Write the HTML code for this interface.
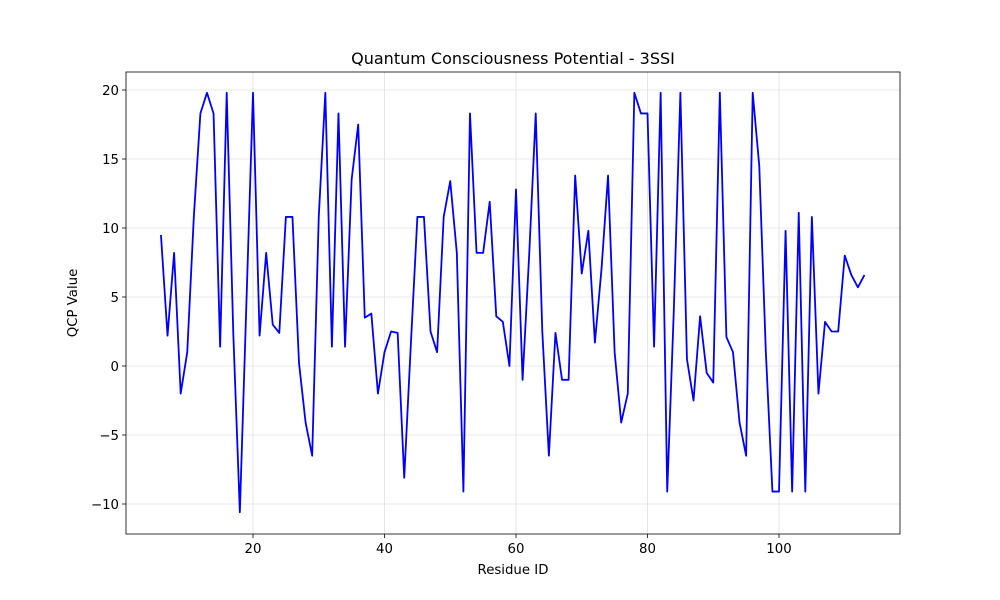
<!DOCTYPE html>
<html><head><meta charset="utf-8"><style>
body{margin:0;background:#fff;}
svg{display:block;font-family:"DejaVu Sans","Liberation Sans",sans-serif;}
</style></head><body>
<svg id="chart" width="1000" height="600"></svg>
<script>
const startResidue = 6;
const qcpValues = [9.5,2.2,8.2,-2.0,1.0,10.8,18.3,19.8,18.3,1.4,
19.8,2.4,-10.6,4.6,19.8,2.2,8.2,3.0,2.4,10.8,
10.8,0.2,-4.1,-6.5,10.8,19.8,1.4,18.3,1.4,13.5,
17.5,3.5,3.8,-2.0,1.0,2.5,2.4,-8.1,1.5,10.8,
10.8,2.5,1.0,10.8,13.4,8.2,-9.1,18.3,8.2,8.2,
11.9,3.6,3.2,0.0,12.8,-1.0,8.0,18.3,2.5,-6.5,
2.4,-1.0,-1.0,13.8,6.7,9.8,1.7,7.0,13.8,1.0,
-4.1,-2.0,19.8,18.3,18.3,1.4,19.8,-9.1,4.0,19.8,
0.5,-2.5,3.6,-0.5,-1.2,19.8,2.1,1.0,-4.1,-6.5,
19.8,14.5,1.0,-9.1,-9.1,9.8,-9.1,11.1,-9.1,10.8,
-2.0,3.2,2.5,2.5,8.0,6.6,5.7,6.6];
const xTicks = [20,40,60,80,100];
const yTicks = [-10,-5,0,5,10,15,20];

const L=126,R=900,T=72,B=534;
const xs=v=>121.5+v*6.575;
const ys=v=>366-v*13.8;
const NS="http://www.w3.org/2000/svg";
const svg=document.getElementById('chart');
function mk(t,a,p){const e=document.createElementNS(NS,t);for(const k in a)e.setAttribute(k,a[k]);(p||svg).appendChild(e);return e;}

const grid=mk('g',{});


const xt=mk('g',{});


xTicks.forEach(t=>{const x=xs(t);
 mk('line',{x1:x,x2:x,y1:T,y2:B,stroke:'#e0e0e0','stroke-width':0.8},grid);
 mk('line',{x1:x,x2:x,y1:B,y2:B+4,stroke:'#000','stroke-width':0.8},xt);
 const tx=mk('text',{x:x,y:B+19,'text-anchor':'middle','font-size':13.3},xt);tx.textContent=t;});
const yt=mk('g',{});


yTicks.forEach(t=>{const y=ys(t);
 mk('line',{x1:L,x2:R,y1:y,y2:y,stroke:'#e0e0e0','stroke-width':0.8},grid);
 mk('line',{x1:L-4,x2:L,y1:y,y2:y,stroke:'#000','stroke-width':0.8},yt);
 const tx=mk('text',{x:L-7,y:y+5,'text-anchor':'end','font-size':13.3},yt);tx.textContent=t<0?'\u2212'+(-t):t;});

const pts=qcpValues.map((v,i)=>xs(startResidue+i).toFixed(2)+','+ys(v).toFixed(2)).join(' ');
const line=mk('polyline',{points:pts,fill:'none',stroke:'#0000ff','stroke-width':1.8,'stroke-linejoin':'round'});



const frame=mk('rect',{x:L,y:T,width:R-L,height:B-T,fill:'none',stroke:'#000','stroke-width':0.8});



const title=mk('text',{x:513,y:64,'text-anchor':'middle','font-size':16});title.textContent='Quantum Consciousness Potential - 3SSI';


const xl=mk('text',{x:513,y:574,'text-anchor':'middle','font-size':13.3});xl.textContent='Residue ID';


const yl=mk('text',{x:77,y:303,'text-anchor':'middle','font-size':13.3,transform:'rotate(-90 77 303)'});yl.textContent='QCP Value';


</script>
</body></html>
